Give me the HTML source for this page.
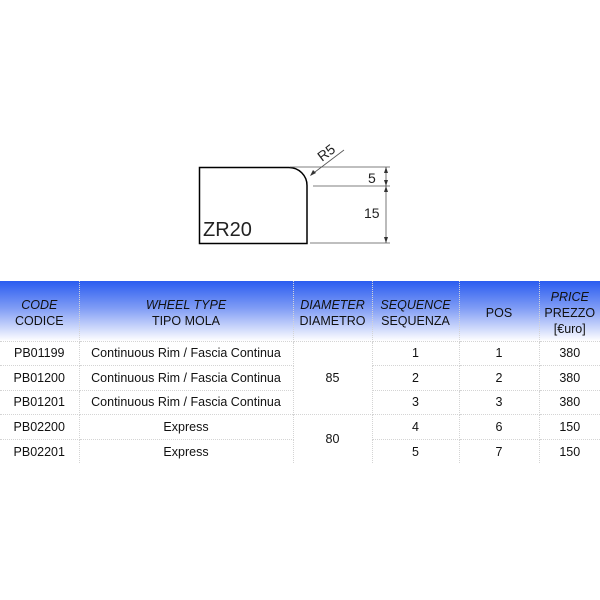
<!DOCTYPE html>
<html><head><style>
body{margin:0;width:600px;height:600px;background:#fff;font-family:"Liberation Sans",sans-serif;position:relative;overflow:hidden}
table{position:absolute;left:0;top:281px;width:600px;border-collapse:collapse;font-size:12.5px;color:#111;border-style:hidden}
td{text-align:center;border:1px dotted #d4d4d4;padding:0;height:23.6px}
tr.h td{height:60px;background:linear-gradient(#2a5cf0 0%,#7f9cf5 45%,#fff 100%);line-height:16px;padding-top:4px;box-sizing:border-box}
tr.h i{font-style:italic}
</style></head><body>
<svg width="600" height="280" style="position:absolute;left:0;top:0">
<path d="M199.5 167.5 H289 A18 18 0 0 1 307 185.5 V243.5 H199.5 Z" fill="none" stroke="#000" stroke-width="1.5"/>
<g stroke="#555" stroke-width="0.8" fill="none">
<line x1="290" y1="167" x2="390" y2="167"/>
<line x1="313" y1="186" x2="390" y2="186"/>
<line x1="310" y1="243" x2="390" y2="243"/>
<line x1="386" y1="167" x2="386" y2="243"/>
<line x1="311" y1="175" x2="344" y2="150"/>
</g>
<g fill="#333">
<path d="M386 167 l-2 6 h4z M386 186 l-2 -6 h4z M386 186 l-2 6 h4z M386 243 l-2 -6 h4z"/>
<path d="M310 176 l3 -6 l3 3z"/>
</g>
<g font-family="Liberation Sans,sans-serif" fill="#222">
<text x="368" y="183" font-size="14">5</text>
<text x="364" y="218" font-size="14">15</text>
<text x="203" y="236" font-size="20">ZR20</text>
<text x="0" y="0" font-size="14" transform="translate(322,162) rotate(-37)">R5</text>
</g>
</svg>
<table>
<colgroup><col style="width:79px"><col style="width:214px"><col style="width:79px"><col style="width:87px"><col style="width:80px"><col style="width:61px"></colgroup>
<tr class="h"><td><i>CODE</i><br>CODICE</td><td><i>WHEEL TYPE</i><br>TIPO MOLA</td><td><i>DIAMETER</i><br>DIAMETRO</td><td><i>SEQUENCE</i><br>SEQUENZA</td><td>POS</td><td><i>PRICE</i><br>PREZZO<br>[€uro]</td></tr>
<tr><td>PB01199</td><td>Continuous Rim / Fascia Continua</td><td rowspan="3">85</td><td>1</td><td>1</td><td>380</td></tr>
<tr><td>PB01200</td><td>Continuous Rim / Fascia Continua</td><td>2</td><td>2</td><td>380</td></tr>
<tr><td>PB01201</td><td>Continuous Rim / Fascia Continua</td><td>3</td><td>3</td><td>380</td></tr>
<tr><td>PB02200</td><td>Express</td><td rowspan="2">80</td><td>4</td><td>6</td><td>150</td></tr>
<tr><td>PB02201</td><td>Express</td><td>5</td><td>7</td><td>150</td></tr>
</table>
</body></html>
